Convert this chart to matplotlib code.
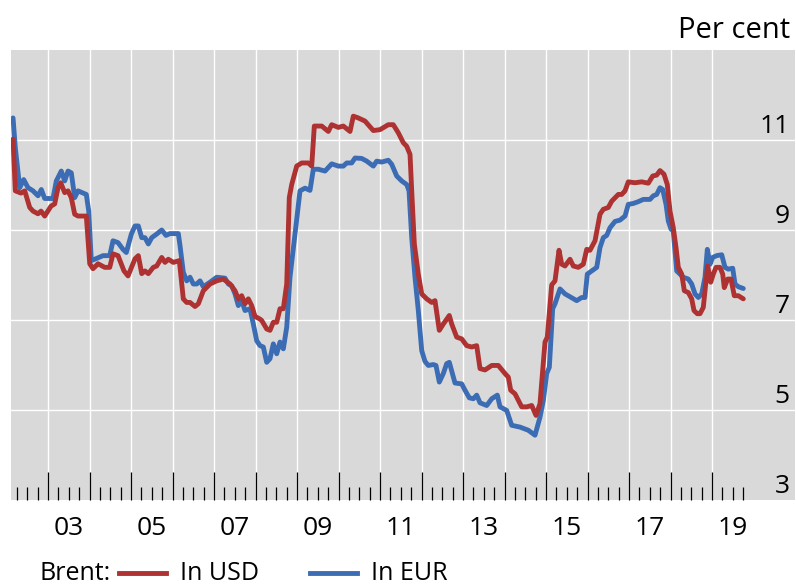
import matplotlib
matplotlib.use("Agg")
import matplotlib.pyplot as plt
from matplotlib.lines import Line2D
from matplotlib.ticker import FixedLocator, NullFormatter

plt.rcParams['font.family'] = ['Open Sans', 'DejaVu Sans']

# Brent oil price, per cent (decimal year, value)
usd_x = [2002.157, 2002.212, 2002.349, 2002.439, 2002.559, 2002.639, 2002.759, 2002.831, 2002.920,
         2003.072, 2003.161, 2003.241, 2003.306, 2003.402, 2003.482, 2003.561, 2003.643, 2003.723, 2003.923,
         2004.005, 2004.084, 2004.205, 2004.366, 2004.487, 2004.566, 2004.687, 2004.831, 2004.928,
         2005.096, 2005.176, 2005.258, 2005.337, 2005.417, 2005.537, 2005.619, 2005.740, 2005.819, 2005.899,
         2006.019, 2006.164, 2006.260, 2006.342, 2006.422, 2006.542, 2006.622, 2006.742, 2006.904,
         2007.065, 2007.224, 2007.386, 2007.506, 2007.586, 2007.667, 2007.747, 2007.827, 2007.908, 2007.988,
         2008.108, 2008.149, 2008.270, 2008.349, 2008.429, 2008.511, 2008.590, 2008.670, 2008.752, 2008.814,
         2008.872, 2008.993, 2009.113, 2009.272, 2009.354, 2009.417, 2009.595, 2009.754, 2009.836, 2009.995,
         2010.116, 2010.277, 2010.357, 2010.477, 2010.639, 2010.839, 2011.000, 2011.200, 2011.320, 2011.441,
         2011.561, 2011.643, 2011.723, 2011.764, 2011.827, 2011.923, 2012.005, 2012.125, 2012.246, 2012.325,
         2012.429, 2012.525, 2012.670, 2012.728, 2012.848, 2012.969, 2013.089, 2013.210, 2013.330, 2013.410,
         2013.530, 2013.692, 2013.851, 2014.012, 2014.092, 2014.149, 2014.253, 2014.414, 2014.535, 2014.655,
         2014.759, 2014.855, 2014.976, 2015.031, 2015.137, 2015.217, 2015.313, 2015.378, 2015.458, 2015.578,
         2015.658, 2015.778, 2015.899, 2015.981, 2016.060, 2016.181, 2016.301, 2016.381, 2016.501, 2016.583,
         2016.742, 2016.824, 2016.904, 2016.983, 2017.145, 2017.306, 2017.465, 2017.571, 2017.667, 2017.747,
         2017.843, 2017.923, 2017.988, 2018.067, 2018.133, 2018.188, 2018.270, 2018.333, 2018.429, 2018.511,
         2018.566, 2018.646, 2018.711, 2018.790, 2018.848, 2018.896, 2018.969, 2019.031, 2019.096, 2019.193,
         2019.258, 2019.296, 2019.378, 2019.458, 2019.537, 2019.634, 2019.754]
usd_y = [11.02, 9.87, 9.82, 9.87, 9.50, 9.42, 9.36, 9.42, 9.31,
         9.53, 9.58, 9.94, 10.05, 9.83, 9.87, 9.72, 9.35, 9.31, 9.31,
         8.25, 8.14, 8.25, 8.17, 8.17, 8.47, 8.43, 8.09, 7.98,
         8.36, 8.43, 8.03, 8.09, 8.03, 8.17, 8.20, 8.39, 8.28, 8.35,
         8.28, 8.32, 7.47, 7.39, 7.39, 7.30, 7.36, 7.65, 7.80,
         7.87, 7.91, 7.80, 7.65, 7.47, 7.54, 7.36, 7.47, 7.32, 7.08,
         7.02, 6.99, 6.80, 6.77, 6.95, 6.95, 7.25, 7.25, 7.80, 9.72,
         10.01, 10.42, 10.49, 10.49, 10.42, 11.31, 11.31, 11.19, 11.34, 11.28,
         11.31, 11.19, 11.53, 11.49, 11.42, 11.21, 11.23, 11.34, 11.34, 11.16,
         10.94, 10.86, 10.68, 9.87, 8.69, 8.02, 7.58, 7.47, 7.39, 7.43,
         6.77, 6.91, 7.10, 6.91, 6.62, 6.58, 6.43, 6.40, 6.43, 5.92,
         5.89, 5.99, 5.99, 5.81, 5.73, 5.44, 5.36, 5.07, 5.07, 5.10,
         4.88, 5.14, 6.51, 6.62, 7.78, 7.87, 8.55, 8.24, 8.20, 8.35,
         8.20, 8.17, 8.24, 8.57, 8.55, 8.76, 9.35, 9.46, 9.50, 9.64,
         9.79, 9.79, 9.87, 10.07, 10.05, 10.07, 10.04, 10.20, 10.22, 10.32,
         10.24, 10.01, 9.42, 9.05, 8.61, 8.17, 8.02, 7.65, 7.61, 7.47,
         7.21, 7.14, 7.14, 7.28, 7.80, 8.20, 7.84, 8.02, 8.17, 8.17,
         8.02, 7.72, 7.91, 7.91, 7.54, 7.54, 7.47]

eur_x = [2002.157, 2002.212, 2002.318, 2002.414, 2002.518, 2002.639, 2002.759, 2002.839, 2002.920,
         2003.120, 2003.200, 2003.320, 2003.402, 2003.482, 2003.561, 2003.643, 2003.723, 2003.923, 2003.981,
         2004.043, 2004.125, 2004.325, 2004.487, 2004.566, 2004.687, 2004.807, 2004.887,
         2005.008, 2005.096, 2005.176, 2005.258, 2005.337, 2005.417, 2005.499, 2005.619, 2005.740, 2005.843, 2005.940,
         2006.140, 2006.181, 2006.260, 2006.342, 2006.422, 2006.501, 2006.583, 2006.663, 2006.742, 2006.904,
         2007.065, 2007.265, 2007.345, 2007.427, 2007.506, 2007.586, 2007.667, 2007.747, 2007.867, 2007.947,
         2008.029, 2008.108, 2008.188, 2008.270, 2008.349, 2008.429, 2008.511, 2008.590, 2008.670, 2008.752,
         2008.831, 2008.952, 2009.072, 2009.193, 2009.313, 2009.393, 2009.513, 2009.675, 2009.836, 2009.995,
         2010.116, 2010.198, 2010.318, 2010.398, 2010.559, 2010.680, 2010.839, 2010.920,
         2011.041, 2011.200, 2011.282, 2011.402, 2011.523, 2011.643, 2011.699, 2011.764, 2011.843, 2011.923,
         2012.005, 2012.084, 2012.164, 2012.284, 2012.349, 2012.429, 2012.525, 2012.607, 2012.670, 2012.807, 2012.969,
         2013.048, 2013.152, 2013.248, 2013.330, 2013.410, 2013.571, 2013.692, 2013.827, 2013.892,
         2014.053, 2014.173, 2014.373, 2014.573, 2014.735, 2014.855, 2014.935,
         2015.017, 2015.080, 2015.161, 2015.217, 2015.337, 2015.458, 2015.740, 2015.860, 2015.940, 2015.995,
         2016.101, 2016.222, 2016.301, 2016.381, 2016.463, 2016.542, 2016.663, 2016.783, 2016.904, 2016.983,
         2017.104, 2017.224, 2017.345, 2017.506, 2017.586, 2017.667, 2017.747, 2017.812, 2017.892, 2017.947,
         2018.012, 2018.067, 2018.108, 2018.149, 2018.229, 2018.308, 2018.429, 2018.511, 2018.590, 2018.670,
         2018.752, 2018.831, 2018.887, 2018.952, 2019.017, 2019.113, 2019.234, 2019.313, 2019.393, 2019.499,
         2019.554, 2019.634, 2019.754]
eur_y = [11.49, 10.83, 9.94, 10.12, 9.94, 9.87, 9.76, 9.90, 9.70,
         9.70, 10.09, 10.31, 10.09, 10.31, 10.27, 9.72, 9.87, 9.79, 9.42,
         8.32, 8.35, 8.43, 8.43, 8.76, 8.72, 8.57, 8.50,
         8.91, 9.09, 9.09, 8.83, 8.83, 8.69, 8.83, 8.91, 9.00, 8.88, 8.92,
         8.92, 8.65, 8.06, 7.87, 7.95, 7.80, 7.80, 7.87, 7.74, 7.84,
         7.95, 7.93, 7.80, 7.76, 7.58, 7.32, 7.43, 7.21, 7.25, 6.91,
         6.54, 6.43, 6.40, 6.06, 6.14, 6.47, 6.25, 6.51, 6.36, 6.84,
         7.95, 8.91, 9.87, 9.93, 9.88, 10.35, 10.35, 10.31, 10.47, 10.42,
         10.42, 10.49, 10.49, 10.60, 10.59, 10.53, 10.42, 10.53,
         10.51, 10.55, 10.46, 10.20, 10.09, 10.01, 9.87, 8.83, 7.95, 7.21,
         6.32, 6.08, 5.99, 6.01, 5.99, 5.62, 5.81, 6.03, 6.06, 5.60, 5.58,
         5.44, 5.27, 5.25, 5.33, 5.16, 5.10, 5.25, 5.33, 5.07,
         4.99, 4.66, 4.62, 4.55, 4.44, 4.84, 5.21,
         5.81, 5.95, 7.25, 7.36, 7.69, 7.58, 7.43, 7.50, 7.50, 8.02,
         8.09, 8.17, 8.61, 8.83, 8.88, 9.05, 9.19, 9.22, 9.31, 9.57,
         9.59, 9.63, 9.68, 9.68, 9.76, 9.79, 9.94, 9.90, 9.57, 9.20,
         9.02, 8.98, 8.54, 8.09, 8.02, 7.95, 7.91, 7.80, 7.58, 7.50,
         7.58, 7.95, 8.57, 8.24, 8.39, 8.43, 8.45, 8.17, 8.13, 8.15,
         7.80, 7.74, 7.70]

years = list(range(2003, 2020))
quarters = [2002 + q / 4 for q in range(1, 72) if q % 4 != 0]
year_labels = ['03', '05', '07', '09', '11', '13', '15', '17', '19']
y_ticks = [3, 5, 7, 9, 11]

red = '#AE3232'
blue = '#3C6DB4'

fig = plt.figure(figsize=(7.96, 5.87), dpi=100)
ax = fig.add_axes([11 / 796, 87 / 587, 784 / 796, 450 / 587])
ax.set_facecolor('#D9D9D9')

ax.plot(eur_x, eur_y, color=blue, lw=3.5, solid_joinstyle='round', solid_capstyle='round', zorder=3)
ax.plot(usd_x, usd_y, color=red, lw=3.5, solid_joinstyle='round', solid_capstyle='round', zorder=4)

ax.set_xlim(2002.108, 2021.0)
ax.set_ylim(3, 13)

for yr in years:
    ax.axvline(yr, color='white', lw=1.0, zorder=1)
for v in [5, 7, 9, 11]:
    ax.axhline(v, color='white', lw=1.0, zorder=1)

ax.xaxis.set_major_locator(FixedLocator(years))
ax.xaxis.set_minor_locator(FixedLocator(quarters))
ax.xaxis.set_major_formatter(NullFormatter())
ax.tick_params(axis='x', which='major', direction='in', length=20, width=0.9, color='black')
ax.tick_params(axis='x', which='minor', direction='in', length=9.5, width=0.9, color='black')
ax.set_yticks([])
for s in ax.spines.values():
    s.set_visible(False)

for i, lbl in enumerate(year_labels):
    ax.annotate(lbl, xy=(2003.5 + 2 * i, 0), xycoords=('data', 'axes fraction'),
                xytext=(0, -25.5), textcoords='offset points',
                ha='center', va='baseline', fontsize=19)

for v in y_ticks:
    ax.annotate(str(v), xy=(0.9935, v), xycoords=('axes fraction', 'data'),
                xytext=(0, 5), textcoords='offset points',
                ha='right', va='baseline', fontsize=19)

fig.text(790 / 796, 1 - 37.5 / 587, 'Per cent', ha='right', va='baseline', fontsize=21)

# legend row
leg_base = 7.5 / 587
leg_line = 14.5 / 587
fig.text(40 / 796, leg_base, 'Brent:', ha='left', va='baseline', fontsize=18)
fig.add_artist(Line2D([119 / 796, 166 / 796], [leg_line, leg_line], color=red, lw=3.5))
fig.text(180 / 796, leg_base, 'In USD', ha='left', va='baseline', fontsize=18)
fig.add_artist(Line2D([310 / 796, 357 / 796], [leg_line, leg_line], color=blue, lw=3.5))
fig.text(371 / 796, leg_base, 'In EUR', ha='left', va='baseline', fontsize=18)

fig.savefig('out.png', dpi=100)
